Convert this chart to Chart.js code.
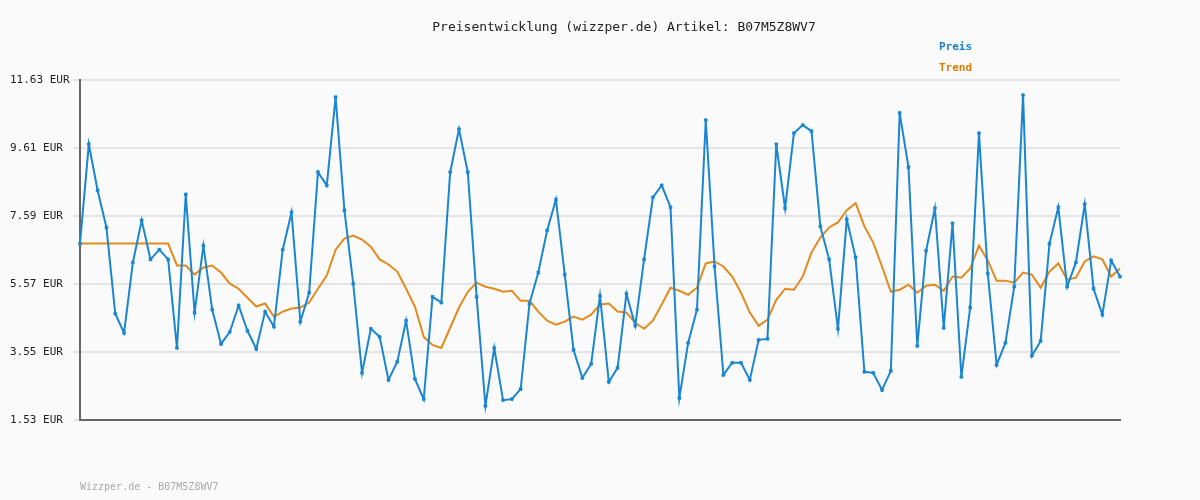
<!DOCTYPE html>
<html>
<head>
<meta charset="utf-8">
<script src="https://cdn.jsdelivr.net/npm/chart.js@4/dist/chart.umd.min.js"></script>
<style>
  html, body { margin: 0; padding: 0; background: #fafafa; }
  #wrap { width: 1200px; height: 500px; }
</style>
</head>
<body>
<div id="wrap"><canvas id="priceChart" width="1200" height="500"></canvas></div>
<script>
// price history, EUR
const preis = [
  6.77, 9.72, 8.35, 7.25, 4.69, 4.12, 6.21, 7.46, 6.30, 6.59, 6.30, 3.67, 8.23, 4.72, 6.71, 4.81,
  3.79, 4.15, 4.93, 4.18, 3.64, 4.75, 4.30, 6.59, 7.70, 4.45, 5.31, 8.89, 8.50, 11.12, 7.76, 5.58,
  2.93, 4.24, 4.00, 2.72, 3.26, 4.48, 2.75, 2.15, 5.19, 5.02, 8.89, 10.17, 8.89, 5.19, 1.95, 3.67,
  2.12, 2.15, 2.45, 4.99, 5.91, 7.16, 8.08, 5.85, 3.61, 2.78, 3.20, 5.22, 2.66, 3.08, 5.28, 4.33,
  6.30, 8.14, 8.50, 7.85, 2.18, 3.82, 4.81, 10.44, 6.09, 2.87, 3.23, 3.23, 2.72, 3.91, 3.94, 9.72,
  7.82, 10.05, 10.29, 10.11, 7.28, 6.30, 4.24, 7.49, 6.36, 2.96, 2.93, 2.42, 2.99, 10.65, 9.04, 3.73,
  6.56, 7.82, 4.27, 7.37, 2.81, 4.87, 10.05, 5.88, 3.17, 3.82, 5.49, 11.18, 3.44, 3.88, 6.77, 7.85,
  5.49, 6.21, 7.94, 5.43, 4.66, 6.27, 5.79
];

const trend = [
  6.77, 6.77, 6.77, 6.77, 6.77, 6.77, 6.77, 6.77, 6.77, 6.77, 6.77, 6.12, 6.12, 5.85, 6.06, 6.12,
  5.91, 5.58, 5.43, 5.16, 4.90, 4.99, 4.60, 4.75, 4.84, 4.87, 5.02, 5.43, 5.82, 6.59, 6.92, 7.01,
  6.89, 6.68, 6.30, 6.15, 5.94, 5.43, 4.90, 4.00, 3.76, 3.67, 4.27, 4.87, 5.34, 5.61, 5.49, 5.43,
  5.34, 5.37, 5.07, 5.07, 4.75, 4.48, 4.36, 4.45, 4.60, 4.51, 4.66, 4.96, 4.99, 4.75, 4.72, 4.42,
  4.24, 4.48, 4.96, 5.46, 5.37, 5.25, 5.46, 6.18, 6.24, 6.09, 5.79, 5.31, 4.72, 4.33, 4.51, 5.10,
  5.43, 5.40, 5.79, 6.51, 6.95, 7.25, 7.40, 7.76, 7.97, 7.28, 6.80, 6.09, 5.34, 5.40, 5.55, 5.31,
  5.52, 5.55, 5.37, 5.79, 5.76, 6.03, 6.71, 6.27, 5.67, 5.67, 5.61, 5.91, 5.85, 5.46, 5.94, 6.18,
  5.70, 5.76, 6.24, 6.39, 6.30, 5.79, 6.03
];

const yTicks = [1.53, 3.55, 5.57, 7.59, 9.61, 11.63];
const labels = preis.map((_, i) => String(i + 1));

const MONO = "'DejaVu Sans Mono', monospace";

// title, legend and footer drawn as plain text
const textPlugin = {
  id: "texts",
  afterDraw(chart) {
    const ctx = chart.ctx;
    ctx.save();
    ctx.textBaseline = "middle";
    ctx.textAlign = "center";
    ctx.fillStyle = "#222";
    ctx.font = "13px " + MONO;
    ctx.fillText("Preisentwicklung (wizzper.de) Artikel: B07M5Z8WV7", 624, 28);

    ctx.textAlign = "left";
    ctx.font = "bold 11px " + MONO;
    ctx.fillStyle = "#1a80c8";
    ctx.fillText("Preis", 939, 47);
    ctx.fillStyle = "#e07b00";
    ctx.fillText("Trend", 939, 68);

    ctx.font = "10px " + MONO;
    ctx.fillStyle = "#aaa";
    ctx.fillText("Wizzper.de - B07M5Z8WV7", 80, 487);
    ctx.restore();
  }
};

new Chart(document.getElementById("priceChart"), {
  type: "line",
  data: {
    labels,
    datasets: [
      {
        label: "Preis",
        data: preis,
        borderColor: "#1a86d0",
        backgroundColor: "#1a86d0",
        borderWidth: 2,
        pointRadius: 2,
        pointStyle: "crossRot",
        pointBorderWidth: 2,
        tension: 0,
      },
      {
        label: "Trend",
        data: trend,
        borderColor: "#e38a1e",
        borderWidth: 2,
        pointRadius: 0,
        tension: 0,
      },
    ],
  },
  options: {
    responsive: false,
    animation: false,
    layout: { padding: { top: 80, right: 80, bottom: 72, left: 10 } },
    plugins: { legend: { display: false }, title: { display: false }, tooltip: { enabled: false } },
    scales: {
      x: {
        ticks: { display: false },
        grid: { display: false },
        border: { display: true, color: "#666", width: 2 },
      },
      y: {
        min: 1.53,
        max: 11.63,
        afterBuildTicks(scale) {
          scale.ticks = yTicks.map((v) => ({ value: v }));
        },
        afterFit(scale) {
          scale.width = 70;
        },
        ticks: {
          crossAlign: "far",
          padding: 6,
          color: "#222",
          font: { family: MONO, size: 11 },
          callback: (v) => Number(v).toFixed(2) + " EUR",
        },
        grid: { color: "#e4e4e4", lineWidth: 2, tickLength: 6 },
        border: { display: true, color: "#666", width: 2 },
      },
    },
  },
  plugins: [textPlugin],
});
</script>
</body>
</html>
